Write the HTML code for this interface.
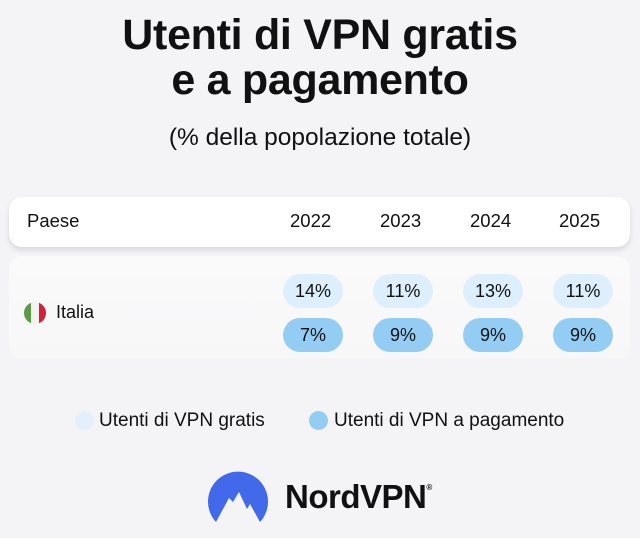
<!DOCTYPE html>
<html><head><meta charset="utf-8"><style>
body{margin:0;width:640px;height:538px;background:#f4f4f6;font-family:"Liberation Sans",sans-serif;color:#111;position:relative;overflow:hidden}
.a{position:absolute}
.t{left:0;width:640px;text-align:center;font-weight:bold;font-size:43px;line-height:45px;top:13px;letter-spacing:-0.3px}
.s{left:0;width:640px;text-align:center;font-size:24.5px;top:124px}
.hd{left:9px;top:197px;width:621px;height:50px;background:#fff;border-radius:13px;box-shadow:0 3px 6px rgba(0,0,0,.12)}
.rw{left:9px;top:256px;width:621px;height:102px;border-radius:13px;background:linear-gradient(#fafafb,#f7f7f8)}
.h{font-size:18.5px;top:210px}
.p{width:60px;height:34px;border-radius:17px;text-align:center;line-height:34px;font-size:18px}
.l{background:#ddeefc}.d{background:#94cdf4}
.g{font-size:19px;top:410px}
</style></head><body>
<div class="a t">Utenti di VPN gratis<br>e a pagamento</div>
<div class="a s">(% della popolazione totale)</div>
<div class="a hd"></div>
<div class="a h" style="left:27px">Paese</div>
<div class="a h" style="left:290px">2022</div>
<div class="a h" style="left:380px">2023</div>
<div class="a h" style="left:470px">2024</div>
<div class="a h" style="left:559px">2025</div>
<div class="a rw"></div>
<div class="a" style="left:24px;top:302px;width:22px;height:22px;border-radius:50%;overflow:hidden;display:flex"><div style="flex:1;background:#5a9b47"></div><div style="flex:1;background:#f2f2f2"></div><div style="flex:1;background:#d32232"></div></div>
<div class="a" style="left:56px;top:302px;font-size:18px">Italia</div>
<div class="a p l" style="left:283px;top:274px">14%</div>
<div class="a p l" style="left:373px;top:274px">11%</div>
<div class="a p l" style="left:463px;top:274px">13%</div>
<div class="a p l" style="left:553px;top:274px">11%</div>
<div class="a p d" style="left:283px;top:318px">7%</div>
<div class="a p d" style="left:373px;top:318px">9%</div>
<div class="a p d" style="left:463px;top:318px">9%</div>
<div class="a p d" style="left:553px;top:318px">9%</div>
<div class="a" style="left:75px;top:411px;width:19px;height:19px;border-radius:50%;background:#e3f0fb"></div>
<div class="a g" style="left:99px">Utenti di VPN gratis</div>
<div class="a" style="left:309px;top:411px;width:19px;height:19px;border-radius:50%;background:#94cdf4"></div>
<div class="a g" style="left:334px">Utenti di VPN a pagamento</div>
<svg class="a" style="left:206px;top:470px" width="64" height="54" viewBox="0 0 64 54">
<path d="M10 52 A30 30 0 1 1 54 52 L44 34 L41 39 L33 22 L27 32 L23 28 Z" fill="#4169e9"/>
</svg>
<div class="a" style="left:285px;top:478px;font-size:33px;font-weight:bold;letter-spacing:-0.5px">NordVPN<sup style="font-size:8px;vertical-align:18px">®</sup></div>
</body></html>
